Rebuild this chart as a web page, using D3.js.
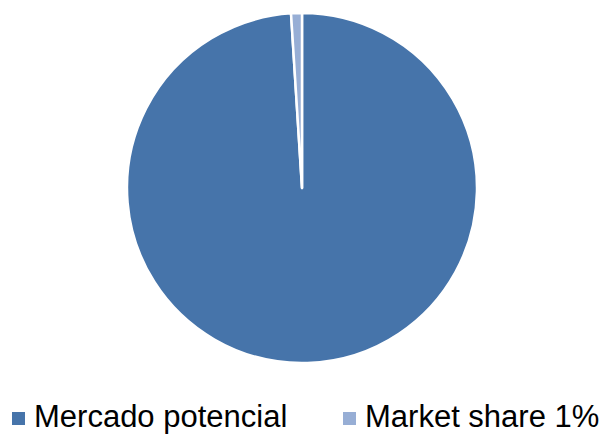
<!DOCTYPE html>
<html>
<meta charset='utf-8'>
<head>
<script src='https://d3js.org/d3.v7.min.js'></script>
<style>body{margin:0;background:#fff}</style>
</head>
<body>
<div id='chart'></div>
<script>
var labels = ['Mercado potencial', 'Market share 1%']
var values = [99, 1]
var colors = ['#4674AA', '#97AED5']

var width = 610, height = 434
var cx = 302, cy = 188, radius = 175

var svg = d3.select('#chart').append('svg')
  .attr('width', width).attr('height', height)

var pie = d3.pie().sort(null).value(function(d) { return d })
var arc = d3.arc().innerRadius(0).outerRadius(radius)

svg.append('g')
  .attr('transform', 'translate(' + cx + ',' + cy + ')')
  .selectAll('path')
  .data(pie(values))
  .enter().append('path')
    .attr('d', arc)
    .attr('fill', function(d, i) { return colors[i] })
    .attr('stroke', 'white')
    .attr('stroke-width', 2.5)
    .attr('stroke-linejoin', 'round')

var legendX = [12, 343]
var leg = svg.selectAll('.leg').data(labels).enter().append('g')
  .attr('transform', function(d, i) { return 'translate(' + legendX[i] + ',412)' })
leg.append('rect')
  .attr('width', 13).attr('height', 13)
  .attr('fill', function(d, i) { return colors[i] })
leg.append('text')
  .attr('x', 22).attr('y', 15)
  .style('font-family', 'Liberation Sans, Arial, sans-serif')
  .style('font-size', '31px')
  .attr('fill', '#000')
  .text(function(d) { return d })
</script>
</body>
</html>
